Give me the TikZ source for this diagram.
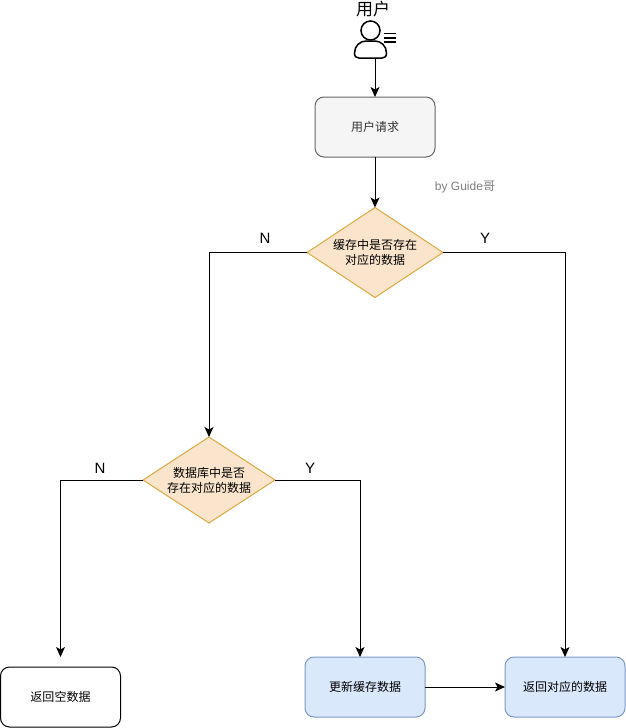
\documentclass[tikz,border=0pt]{standalone}
\usepackage{fontspec}
\setmainfont{Liberation Sans}
\newfontfamily\cjk{Noto Sans CJK SC}
\usetikzlibrary{arrows.meta,shapes.geometric}
\definecolor{grayfill}{HTML}{F5F5F5}
\definecolor{graydraw}{HTML}{666666}
\definecolor{orangefill}{HTML}{FAE5CC}
\definecolor{orangedraw}{HTML}{DCA840}
\definecolor{bluefill}{HTML}{DAE8FC}
\definecolor{bluedraw}{HTML}{7C98C4}
\tikzset{
  box/.style={draw, rounded corners=9pt, minimum width=120pt, minimum height=60pt, inner sep=0pt, outer sep=0pt,
              font=\cjk\fontsize{12}{15}\selectfont},
  graybox/.style={box, fill=grayfill, draw=graydraw},
  bluebox/.style={box, fill=bluefill, draw=bluedraw},
  decision/.style={diamond, draw=orangedraw, fill=orangefill, aspect=1.5, inner sep=0pt, outer sep=0pt, align=center,
              font=\cjk\fontsize{12}{15}\selectfont},
  branch/.style={font=\fontsize{15}{17}\selectfont, inner sep=0pt},
  flow/.style={-{Stealth[length=10pt,width=9pt,inset=2.5pt]}, line width=1pt},
}
\begin{document}
\begin{tikzpicture}[x=1pt, y=-1pt, line width=1pt]
  \useasboundingbox (0,0) rectangle (626,728);

  \node[inner sep=0pt, font=\cjk\fontsize{17}{17}\selectfont] (usertext) at (373,9.5) {用户};
  \draw[line width=1.5pt] (370.5,30.5) circle (9.5pt);
  \draw[line width=1.5pt] (354.5,53) .. controls (354.5,46) and (360,41) .. (366,41)
       -- (375,41) .. controls (381,41) and (386.5,46) .. (386.5,53)
       .. controls (386.5,56.5) and (385,58) .. (382,58) -- (359,58)
       .. controls (356,58) and (354.5,56.5) .. (354.5,53) -- cycle;
  \foreach \y in {33.5,38,42}
    \draw[line width=1.2pt] (383.5,\y) -- (396,\y);
  \coordinate (usericon) at (375,58);

  \node[graybox] (request) at (375,127) {\textcolor{black!80}{用户请求}};
  \node[inner sep=0pt, text=graydraw!85, font=\fontsize{12}{14}\selectfont] (byline) at (465,187.5) {by Guide{\cjk 哥}};
  \node[decision, minimum width=136pt, minimum height=90pt] (cache) at (375,252.5) {缓存中是否存在\\对应的数据};
  \node[decision, minimum width=132pt, minimum height=86pt] (database) at (209,480) {数据库中是否\\存在对应的数据};
  \node[box, fill=white, draw=black] (empty) at (60.5,697) {\raisebox{-0.7pt}{返回空数据}};
  \node[bluebox] (update) at (365,687) {更新缓存数据};
  \node[bluebox] (result) at (565,687) {返回对应的数据};
  \coordinate (emptyend) at (60.5,657);

  \node[branch] (cacheN) at (265,238) {N};
  \node[branch] (cacheY) at (485,238) {Y};
  \node[branch] (databaseN) at (100,468) {N};
  \node[branch] (databaseY) at (310,468) {Y};

  \draw[flow] (usericon) -- (request);
  \draw[flow] (request) -- (cache);
  \draw[flow] (cache.west) -| (database.north);
  \draw[flow] (cache.east) -| (result.north);
  \draw[flow] (database.west) -| (emptyend);
  \draw[flow] (database.east) -| ([xshift=-5pt]update.north);
  \draw[flow] (update) -- (result);
\end{tikzpicture}
\end{document}
